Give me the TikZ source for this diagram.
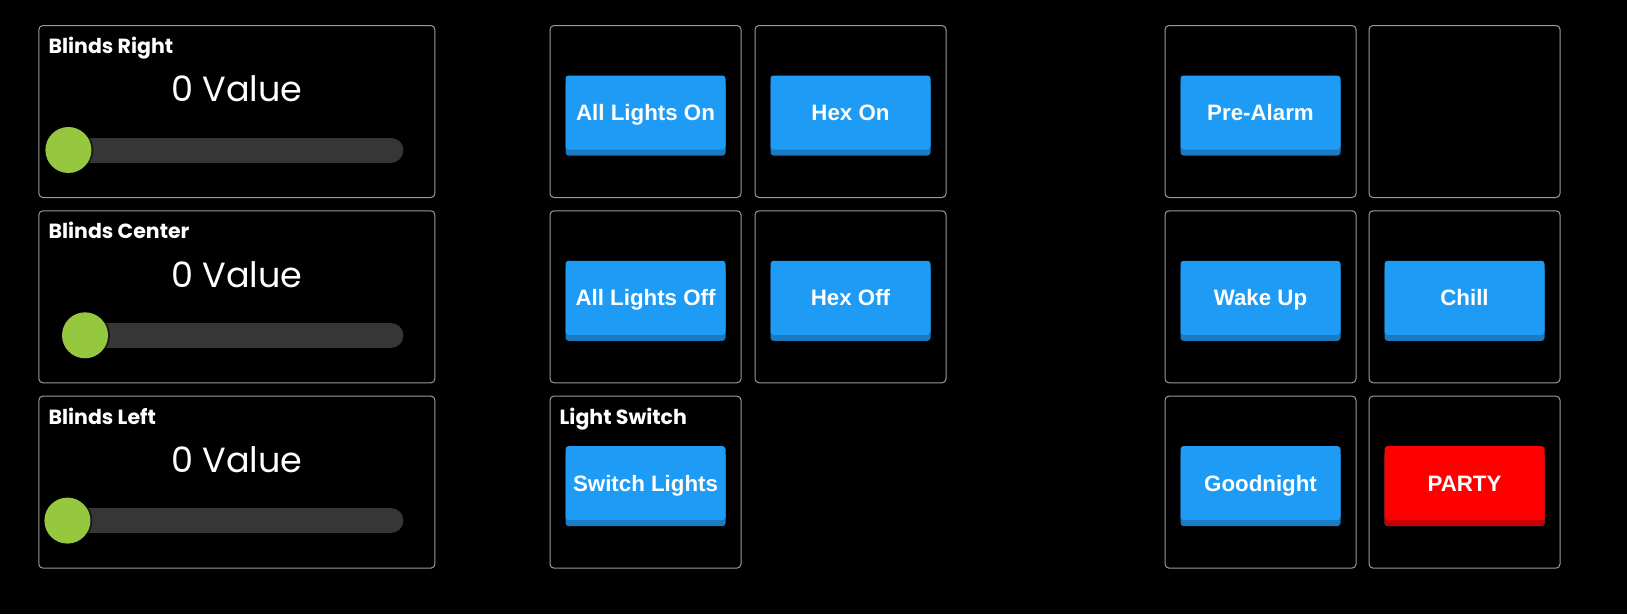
\documentclass[tikz,border=0pt]{standalone}
\usepackage{fontspec}
\setmainfont{Liberation Sans}
\newfontfamily\dashfont{Poppins}
\usetikzlibrary{positioning,shadows}
\definecolor{panelgray}{HTML}{9A9A9A}
\definecolor{btnblue}{HTML}{1E9BF4}
\definecolor{btndark}{HTML}{1A7AC2}
\definecolor{btnred}{HTML}{FF0000}
\definecolor{reddark}{HTML}{C60000}
\definecolor{knobgreen}{HTML}{95C83E}
\definecolor{trackgray}{HTML}{363636}
\begin{document}
\begin{tikzpicture}[x=1pt, y=-1pt,
    panel/.style={draw=panelgray, line width=1pt, rounded corners=4pt, inner sep=0pt, minimum height=172pt},
    wide/.style={panel, minimum width=396pt},
    cell/.style={panel, minimum width=191pt},
    btn/.style={fill=btnblue, rounded corners=3pt, minimum width=160pt, minimum height=74pt, inner sep=0pt,
        text height=16pt, text depth=0pt,
        text=white, font=\fontsize{22.3}{24}\selectfont\bfseries,
        drop shadow={shadow xshift=0pt, shadow yshift=-6pt, fill=btndark, opacity=1}},
    alarm/.style={btn, fill=btnred, drop shadow={shadow xshift=0pt, shadow yshift=-6pt, fill=reddark, opacity=1}},
    title/.style={anchor=base west, inner sep=0pt, text=white, font=\dashfont\bfseries\fontsize{20.5}{23}\selectfont},
    value/.style={inner sep=0pt, text=white, font=\dashfont\fontsize{35}{40}\selectfont},
    track/.style={draw=trackgray, line width=25pt, line cap=round},
    knob/.style={circle, fill=knobgreen, minimum size=46pt, inner sep=0pt,
        drop shadow={shadow xshift=2pt, shadow yshift=0pt, fill=black, opacity=0.5}}]
    \fill[black] (0,0) rectangle (1627,614);
    \useasboundingbox (0,0) rectangle (1627,614);

    % blinds column
    \node[wide, anchor=north west] (br) at (38.4,25) {};
    \node[wide] (bc) [below=12.3pt of br] {};
    \node[wide] (bl) [below=12.3pt of bc] {};
    \node[title] at ([shift={(10pt,-28.5pt)}]br.north west) {Blinds Right};
    \node[title] at ([shift={(10pt,-28.5pt)}]bc.north west) {Blinds Center};
    \node[title] at ([shift={(10pt,-28.5pt)}]bl.north west) {Blinds Left};
    \node[value] at ([yshift=-64pt]br.north) {0 Value};
    \node[value] at ([yshift=-64pt]bc.north) {0 Value};
    \node[value] at ([yshift=-64pt]bl.north) {0 Value};
    \coordinate (kr) at ([shift={(30pt,-125pt)}]br.north west);
    \coordinate (kc) at ([shift={(46.6pt,-125pt)}]bc.north west);
    \coordinate (kl) at ([shift={(29pt,-125pt)}]bl.north west);
    \draw[track] (kr) -- ([shift={(352.5pt,-125pt)}]br.north west);
    \draw[track] (kc) -- ([shift={(352.5pt,-125pt)}]bc.north west);
    \draw[track] (kl) -- ([shift={(352.5pt,-125pt)}]bl.north west);
    \node[knob] at (kr) {};
    \node[knob] at (kc) {};
    \node[knob] at (kl) {};

    % lights columns
    \node[cell, anchor=north west] (lon) at (549.5,25) {};
    \node[cell] (hon) [right=13pt of lon] {};
    \node[cell] (loff) [below=12.3pt of lon] {};
    \node[cell] (hoff) [below=12.3pt of hon] {};
    \node[cell] (lsw) [below=12.3pt of loff] {};
    \node[btn] (b1) at ([yshift=-1pt]lon.center) {All Lights On};
    \node[btn] (b2) at ([yshift=-1pt]hon.center) {Hex On};
    \node[btn] (b3) at ([yshift=-1pt]loff.center) {All Lights Off};
    \node[btn] (b4) at ([yshift=-1pt]hoff.center) {Hex Off};
    \node[btn] (b5) at ([yshift=-1pt]lsw.center) {Switch Lights};
    \node[title] at ([shift={(10pt,-28.5pt)}]lsw.north west) {Light Switch};

    % scenes columns
    \node[cell, anchor=north west] (pre) at (1164.5,25) {};
    \node[cell] (spare) [right=12pt of pre] {};
    \node[cell] (wake) [below=12.3pt of pre] {};
    \node[cell] (chill) [below=12.3pt of spare] {};
    \node[cell] (night) [below=12.3pt of wake] {};
    \node[cell] (party) [below=12.3pt of chill] {};
    \node[btn] (b6) at ([yshift=-1pt]pre.center) {Pre-Alarm};
    \node[btn] (b7) at ([yshift=-1pt]wake.center) {Wake Up};
    \node[btn] (b8) at ([yshift=-1pt]chill.center) {Chill};
    \node[btn] (b9) at ([yshift=-1pt]night.center) {Goodnight};
    \node[alarm] (b10) at ([yshift=-1pt]party.center) {PARTY};
\end{tikzpicture}
\end{document}
